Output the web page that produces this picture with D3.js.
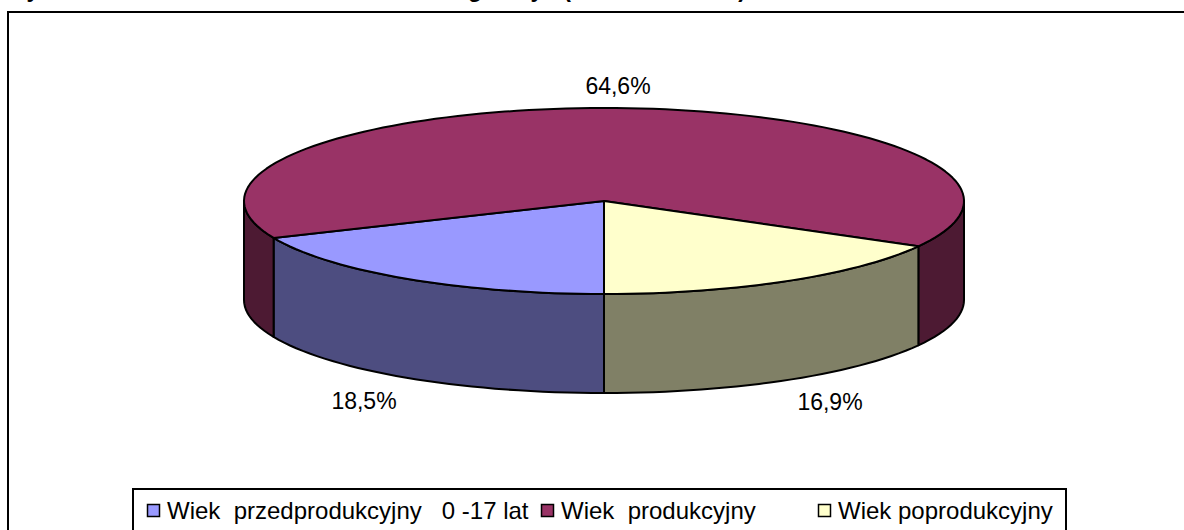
<!DOCTYPE html>
<html>
<head>
<meta charset="utf-8">
<script src="https://cdn.jsdelivr.net/npm/d3@7"></script>
<style>
  html, body { margin: 0; padding: 0; background: #fff; overflow: hidden; }
  text { font-family: "Liberation Sans", Arial, sans-serif; font-size: 23px; fill: #000; }
  .legendItem text { font-size: 24px; }
</style>
</head>
<body>
<div id="chart"></div>
<script>
// chart values
var categories = ['Wiek  przedprodukcyjny   0 -17 lat', 'Wiek  produkcyjny', 'Wiek poprodukcyjny'];
var shares = [18.5, 64.6, 16.9];
var shareLabels = ['18,5%', '64,6%', '16,9%'];
var topColors = ['#9999FF', '#993366', '#FFFFCC'];
var sideColors = ['#4D4D80', '#4D1A33', '#808066'];

// only the bottoms of the title's letters are left in the picture
var titleLetters = ['y', 'g', 'y', '(', ')'];

var svgWidth = 1184;
var svgHeight = 530;
var depth = 99;

var svg = d3.select('#chart')
    .append('svg')
    .attr('width', svgWidth)
    .attr('height', svgHeight)
    .style('display', 'block');

// cut off title
svg.selectAll('.titleLetter')
    .data(titleLetters)
    .enter()
    .append('text')
    .attr('class', 'titleLetter')
    .attr('x', (d, i) => [33, 475, 537, 567, 742][i])
    .attr('y', -3)
    .attr('text-anchor', 'middle')
    .style('font-weight', 'bold')
    .text(d => d);

// outer frame, runs past the right and bottom of the page
svg.append('rect')
    .attr('x', 8)
    .attr('y', 12)
    .attr('width', 1300)
    .attr('height', 700)
    .attr('fill', '#fff')
    .attr('stroke', '#000')
    .attr('stroke-width', 2);

// unit circle to the flattened pie
var xScale = d3.scaleLinear().domain([-1, 1]).range([244, 964]);
var yScale = d3.scaleLinear().domain([-1, 1]).range([108, 294]);

// slices go clockwise from the bottom of the pie
var pie = d3.pie().sort(null).startAngle(Math.PI).endAngle(3 * Math.PI);
var slices = pie(shares);

// points along an arc, 0 is up and angles go clockwise
function arcPoints(a0, a1) {
    var n = Math.max(2, Math.ceil((a1 - a0) / (Math.PI / 90)));
    return d3.range(n + 1).map(i => a0 + (a1 - a0) * i / n);
}

var px = a => xScale(Math.sin(a));
var py = a => yScale(-Math.cos(a));

function sidePath(a0, a1) {
    var pts = arcPoints(a0, a1);
    var upper = pts.map(a => [px(a), py(a)]);
    var lower = pts.slice().reverse().map(a => [px(a), py(a) + depth]);
    return d3.line()(upper.concat(lower)) + 'Z';
}

function topPath(a0, a1) {
    var pts = arcPoints(a0, a1).map(a => [px(a), py(a)]);
    return d3.line()([[xScale(0), yScale(0)]].concat(pts)) + 'Z';
}

// front walls: only the parts of each slice in the lower half of the ellipse
var walls = [];
slices.forEach((s, i) => {
    [[Math.PI / 2, 3 * Math.PI / 2], [5 * Math.PI / 2, 7 * Math.PI / 2]].forEach(r => {
        var a0 = Math.max(s.startAngle, r[0]);
        var a1 = Math.min(s.endAngle, r[1]);
        if (a1 > a0) walls.push({ a0: a0, a1: a1, i: i });
    });
});

svg.selectAll('.wall')
    .data(walls)
    .enter()
    .append('path')
    .attr('class', 'wall')
    .attr('d', d => sidePath(d.a0, d.a1))
    .attr('fill', d => sideColors[d.i])
    .attr('stroke', '#000')
    .attr('stroke-width', 2)
    .attr('stroke-linejoin', 'round');

svg.selectAll('.slice')
    .data(slices)
    .enter()
    .append('path')
    .attr('class', 'slice')
    .attr('d', d => topPath(d.startAngle, d.endAngle))
    .attr('fill', (d, i) => topColors[i])
    .attr('stroke', '#000')
    .attr('stroke-width', 2)
    .attr('stroke-linejoin', 'round');

// percent labels
svg.selectAll('.share')
    .data(shareLabels)
    .enter()
    .append('text')
    .attr('class', 'share')
    .attr('x', (d, i) => [364, 618, 830][i])
    .attr('y', (d, i) => [409, 94, 410][i])
    .attr('text-anchor', 'middle')
    .text(d => d);

// legend
svg.append('rect')
    .attr('x', 133)
    .attr('y', 489)
    .attr('width', 933)
    .attr('height', 60)
    .attr('fill', '#fff')
    .attr('stroke', '#000')
    .attr('stroke-width', 2);

var legendX = [147, 541, 818];

var legendItem = svg.selectAll('.legendItem')
    .data(categories)
    .enter()
    .append('g')
    .attr('class', 'legendItem')
    .attr('transform', (d, i) => `translate(${legendX[i]}, 0)`);

legendItem.append('rect')
    .attr('x', 0.5)
    .attr('y', 504.5)
    .attr('width', 12)
    .attr('height', 12)
    .attr('fill', (d, i) => topColors[i])
    .attr('stroke', '#000')
    .attr('stroke-width', 1.5);

legendItem.append('text')
    .attr('x', 20)
    .attr('y', 519)
    .style('white-space', 'pre')
    .attr('xml:space', 'preserve')
    .text(d => d);
</script>
</body>
</html>
